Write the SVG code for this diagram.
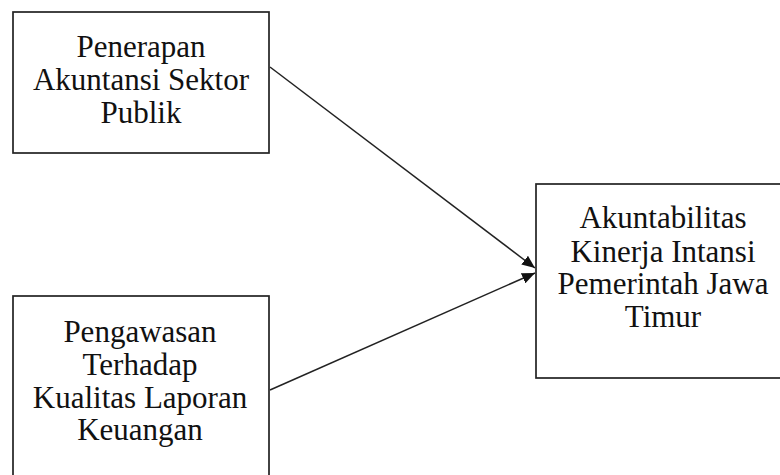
<svg xmlns="http://www.w3.org/2000/svg" width="780" height="475" viewBox="0 0 780 475">
<defs>
<style>
.box{fill:#fff;stroke:#222;stroke-width:1.7}
.t{font-family:'Liberation Serif',serif;font-size:31px;fill:#111;text-anchor:middle}
.c{stroke:#222;stroke-width:1.5;fill:none}
</style>
<marker id="ah" markerWidth="13" markerHeight="11" refX="13" refY="5.5" orient="auto" markerUnits="userSpaceOnUse">
<path d="M0,0 L13,5.5 L0,11 Z" fill="#111"/>
</marker>
</defs>
<rect width="780" height="475" fill="#fff"/>
<g id="connectors">
<line class="c" x1="270" y1="67" x2="535" y2="268" marker-end="url(#ah)"/>
<line class="c" x1="270" y1="390" x2="535" y2="273" marker-end="url(#ah)"/>
</g>
<g id="n1">
<rect class="box" x="13" y="12" width="256" height="141"/>
<text class="t" x="141" y="57">Penerapan</text>
<text class="t" x="141" y="90">Akuntansi Sektor</text>
<text class="t" x="141" y="123">Publik</text>
</g>
<g id="n2">
<rect class="box" x="13" y="296" width="256" height="200"/>
<text class="t" x="140" y="342">Pengawasan</text>
<text class="t" x="140" y="375">Terhadap</text>
<text class="t" x="140" y="408">Kualitas Laporan</text>
<text class="t" x="140" y="440">Keuangan</text>
</g>
<g id="n3">
<rect class="box" x="536" y="184" width="260" height="194"/>
<text class="t" x="663" y="228">Akuntabilitas</text>
<text class="t" x="663" y="262">Kinerja Intansi</text>
<text class="t" x="663" y="294">Pemerintah Jawa</text>
<text class="t" x="663" y="327">Timur</text>
</g>
</svg>
